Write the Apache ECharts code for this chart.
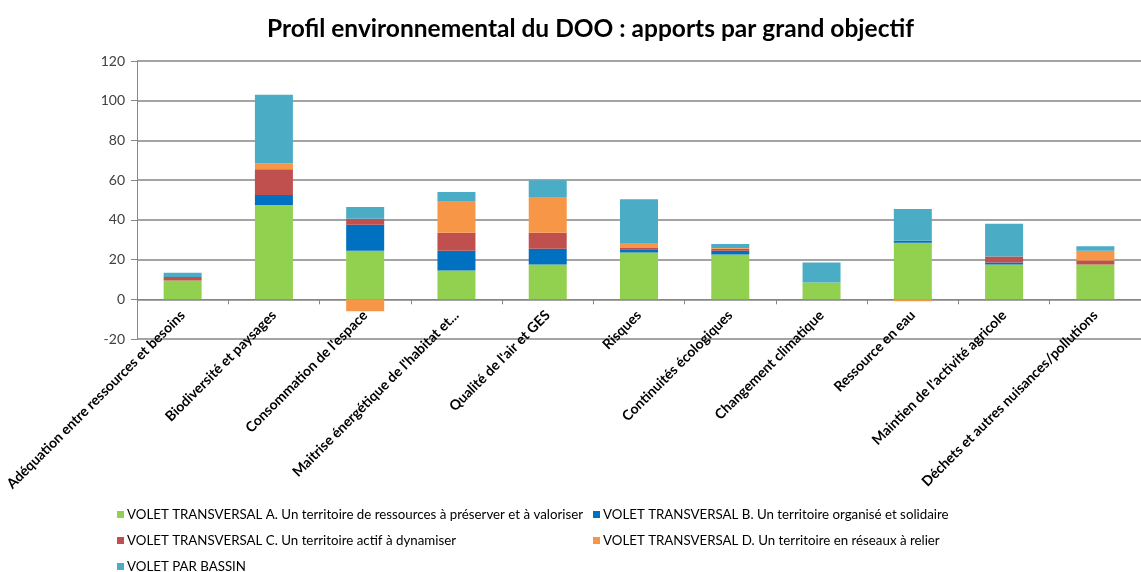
<!DOCTYPE html>
<html>
<head>
<meta charset="utf-8">
<script src="https://cdn.jsdelivr.net/npm/echarts@6/dist/echarts.min.js"></script>
<style>
html,body{margin:0;padding:0;background:#fff;}
#chart{width:1141px;height:572px;}
</style>
</head>
<body>
<div id="chart"></div>
<script>
const title = "Profil environnemental du DOO : apports par grand objectif";
const categories = [
  "Adéquation entre ressources et besoins",
  "Biodiversité et paysages",
  "Consommation de l'espace",
  "Maitrise énergétique de l'habitat et...",
  "Qualité de l'air et GES",
  "Risques",
  "Continuités écologiques",
  "Changement climatique",
  "Ressource en eau",
  "Maintien de l'activité agricole",
  "Déchets et autres nuisances/pollutions"
];
const seriesNames = [
  "VOLET TRANSVERSAL A. Un territoire de ressources à préserver et à valoriser",
  "VOLET TRANSVERSAL B. Un territoire organisé et solidaire",
  "VOLET TRANSVERSAL C. Un territoire actif à dynamiser",
  "VOLET TRANSVERSAL D. Un territoire en réseaux à relier",
  "VOLET PAR BASSIN"
];
const voletA = [9.5, 47.5, 24.5, 14.5, 17.5, 23.5, 22.5, 8.5, 28.5, 17.5, 17.5];
const voletB = [0, 5, 13, 10, 8, 1.7, 2, 0, 1, 1, 0];
const voletC = [1.7, 13, 3, 9, 8, 0.6, 1, 0, 0, 3, 2];
const voletD = [0, 3, -6, 16, 18, 2.6, 0.3, 0, -1, 0, 5];
const bassin = [2.2, 34.5, 6, 4.5, 8.5, 22, 2, 10, 16, 16.5, 2.2];
const yTicks = [-20, 0, 20, 40, 60, 80, 100, 120];

const colors = ["#92D050", "#0070C0", "#C0504D", "#F79646", "#4BACC6"];
const values = [voletA, voletB, voletC, voletD, bassin];
const font = "Lato, 'Open Sans', sans-serif";

const chart = echarts.init(document.getElementById('chart'), null, {renderer: 'canvas'});

const legendPos = [
  {left: 117, top: 508},
  {left: 593, top: 508},
  {left: 117, top: 534},
  {left: 593, top: 534},
  {left: 117, top: 560}
];

const option = {
  backgroundColor: '#ffffff',
  animation: false,
  title: {
    text: title,
    left: 262,
    top: 12,
    textStyle: {fontFamily: font, fontWeight: 'bold', fontSize: 24.5, color: '#000'}
  },
  legend: seriesNames.map((n, i) => ({
    data: [n],
    left: legendPos[i].left,
    top: legendPos[i].top,
    icon: 'rect',
    itemWidth: 7,
    itemHeight: 7,
    itemGap: 4,
    padding: 0,
    selectedMode: false,
    textStyle: {fontFamily: font, fontSize: 13.3, color: '#000', padding: [0, 0, 0, -2]}
  })),
  grid: {left: 137, right: -14, top: 61, bottom: 233, containLabel: false},
  xAxis: {
    type: 'category',
    data: categories,
    axisLine: {onZero: true, lineStyle: {color: '#868686', width: 1}},
    axisTick: {show: true, length: 5, lineStyle: {color: '#868686'}},
    axisLabel: {
      rotate: 45,
      interval: 0,
      margin: -26,
      fontFamily: font,
      fontWeight: 'bold',
      fontSize: 14,
      color: '#000'
    }
  },
  yAxis: {
    type: 'value',
    min: -20,
    max: 120,
    interval: 20,
    axisLine: {show: true, lineStyle: {color: '#868686'}},
    axisTick: {show: true, length: 6, lineStyle: {color: '#868686'}},
    axisLabel: {fontFamily: font, fontSize: 14, color: '#404040', margin: 12},
    splitLine: {lineStyle: {color: '#868686', width: 1.5}}
  },
  series: seriesNames.map((n, i) => ({
    name: n,
    type: 'bar',
    stack: 'total',
    barWidth: 38,
    itemStyle: {color: colors[i]},
    data: values[i]
  }))
};
chart.setOption(option);
</script>
</body>
</html>
